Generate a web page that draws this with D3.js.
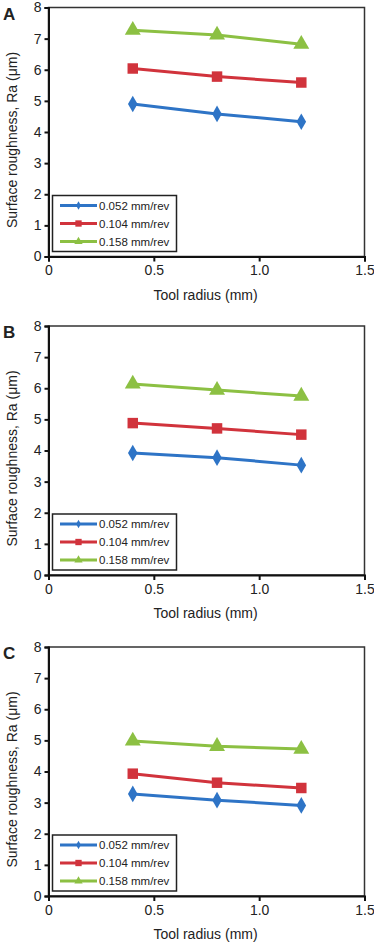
<!DOCTYPE html>
<html>
<head>
<meta charset="utf-8">
<script src="https://cdn.jsdelivr.net/npm/d3@7"></script>
<style>
body { margin: 0; background: #fff; }
text { font-family: "Liberation Sans", Arial, sans-serif; fill: #222; }
</style>
</head>
<body>
<div id="chart-area"></div>
<script>
// data
var radius = [0.4, 0.8, 1.2]
var feeds = ["0.052 mm/rev", "0.104 mm/rev", "0.158 mm/rev"]
var panels = ["A", "B", "C"]
var panelA = [[4.9, 4.58, 4.33], [6.04, 5.78, 5.59], [7.27, 7.12, 6.82]]
var panelB = [[3.92, 3.77, 3.53], [4.88, 4.71, 4.51], [6.14, 5.94, 5.75]]
var panelC = [[3.28, 3.08, 2.91], [3.93, 3.64, 3.47], [4.98, 4.81, 4.72]]
var xTicks = [0, 0.5, 1.0, 1.5]
var yTicks = [0, 1, 2, 3, 4, 5, 6, 7, 8]

var allData = [panelA, panelB, panelC]
var colors = ["#2e74c6", "#d1333c", "#8cc043"]
var shapes = [d3.symbolDiamond, d3.symbolSquare, d3.symbolTriangle]
var sizes = [80, 110, 110]

var width = 374
var height = 943
var tops = [7.5, 326, 647]
var plotH = 249
var left = 48.5
var right = 364.5

var svg = d3.select("#chart-area").append("svg")
.attr("width", width)
.attr("height", height)

var x = d3.scaleLinear()
.domain([0, 1.5])
.range([left, right])

panels.forEach((p, i) => {
	var top = tops[i]
	var y = d3.scaleLinear()
	.domain([0, 8])
	.range([top + plotH, top])

	var g = svg.append("g")

	// frame
	g.append("rect")
	.attr("x", left)
	.attr("y", top)
	.attr("width", right - left)
	.attr("height", plotH)
	.attr("fill", "none")
	.attr("stroke", "#333")
	.attr("stroke-width", 1.5)

	var xAxis = g.append("g")
	.attr("transform", "translate(0," + (top + plotH) + ")")
	.call(d3.axisBottom(x).tickValues(xTicks).tickSize(5).tickPadding(4)
	.tickFormat(d => d == 0 ? "0" : d3.format(".1f")(d)))

	var yAxis = g.append("g")
	.attr("transform", "translate(" + left + ",0)")
	.call(d3.axisLeft(y).tickValues(yTicks).tickSize(4).tickPadding(3))

	;[xAxis, yAxis].forEach(a => {
		a.select(".domain").attr("stroke", "#111").attr("stroke-width", 2)
		a.selectAll(".tick line").attr("stroke", "#111").attr("stroke-width", 2)
		a.selectAll("text").attr("font-size", "14px")
			.style("font-family", "'Liberation Sans', Arial, sans-serif").attr("fill", "#222")
	})

	// panel letter
	g.append("text")
	.attr("x", 3)
	.attr("y", top + 12)
	.attr("font-size", "17px")
	.attr("font-weight", "bold")
	.text(p)

	// axis labels
	g.append("text")
	.attr("x", (left + right) / 2 - 1)
	.attr("y", top + plotH + 43)
	.attr("font-size", "14px")
	.attr("text-anchor", "middle")
	.text("Tool radius (mm)")

	g.append("text")
	.attr("transform", "translate(17," + (top + plotH / 2 + 8) + ") rotate(-90)")
	.attr("font-size", "14px")
	.attr("text-anchor", "middle")
	.text("Surface roughness, Ra (\u03bcm)")

	var line = d3.line()
	.x((d, j) => x(radius[j]))
	.y(d => y(d))

	allData[i].forEach((series, s) => {
		g.append("path")
		.datum(series)
		.attr("fill", "none")
		.attr("stroke", colors[s])
		.attr("stroke-width", 3)
		.attr("d", line)

		g.selectAll(".pt" + s)
		.data(series)
		.enter().append("path")
		.attr("transform", (d, j) => "translate(" + x(radius[j]) + "," + y(d) + ")")
		.attr("d", d3.symbol().type(shapes[s]).size(sizes[s]))
		.attr("fill", colors[s])
	})

	// legend
	var lg = g.append("g")
	.attr("transform", "translate(52," + (top + 188) + ")")

	lg.append("rect")
	.attr("x", 0.5)
	.attr("y", 0)
	.attr("width", 124)
	.attr("height", 56)
	.attr("fill", "#fff")
	.attr("stroke", "#222")
	.attr("stroke-width", 1.5)

	feeds.forEach((f, s) => {
		var ly = 10 + s * 18
		lg.append("line")
		.attr("x1", 8)
		.attr("x2", 45)
		.attr("y1", ly)
		.attr("y2", ly)
		.attr("stroke", colors[s])
		.attr("stroke-width", 3)
		lg.append("path")
		.attr("transform", "translate(26.5," + ly + ")")
		.attr("d", d3.symbol().type(shapes[s]).size([20, 40, 30][s]))
		.attr("fill", colors[s])
		lg.append("text")
		.attr("x", 47)
		.attr("y", ly + 4)
		.attr("font-size", "11.5px")
		.text(f)
	})
})
</script>
</body>
</html>
